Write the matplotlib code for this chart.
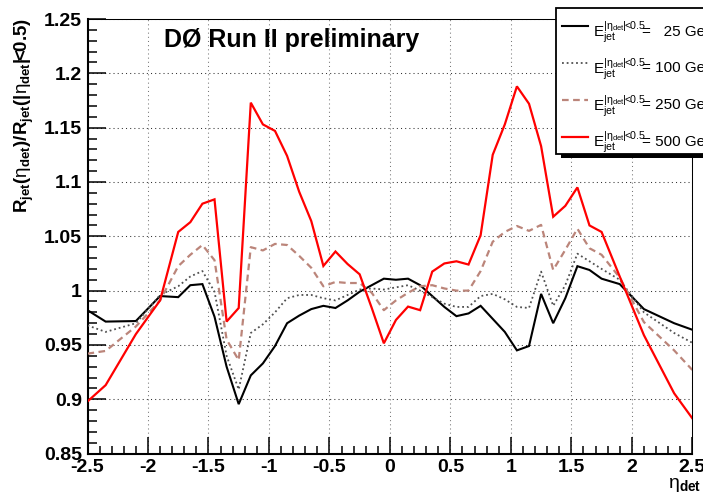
import matplotlib
matplotlib.use("Agg")
import matplotlib.pyplot as plt
from matplotlib.patches import Rectangle
from matplotlib.lines import Line2D
from matplotlib.ticker import FixedLocator, FixedFormatter, MultipleLocator

plt.rcParams['font.family'] = ['Liberation Sans', 'DejaVu Sans']
plt.rcParams['mathtext.fontset'] = 'custom'
plt.rcParams['mathtext.rm'] = 'Liberation Sans'
plt.rcParams['mathtext.it'] = 'Liberation Sans:italic'
plt.rcParams['mathtext.bf'] = 'Liberation Sans:bold'

# detector pseudorapidity of each point
eta_det = [-2.5, -2.35, -2.1, -1.9, -1.75, -1.65, -1.55, -1.45, -1.35, -1.25,
           -1.15, -1.05, -0.95, -0.85, -0.75, -0.65, -0.55, -0.45, -0.35, -0.25,
           -0.15, -0.05, 0.05, 0.15, 0.25, 0.35, 0.45, 0.55, 0.65, 0.75,
           0.85, 0.95, 1.05, 1.15, 1.25, 1.35, 1.45, 1.55, 1.65, 1.75,
           1.9, 2.1, 2.35, 2.5]

# relative response for jets of fixed central energy
resp_25 = [0.982, 0.9715, 0.972, 0.995, 0.994, 1.005, 1.006, 0.976, 0.930, 0.8955,
           0.922, 0.933, 0.949, 0.970, 0.977, 0.983, 0.986, 0.984, 0.991, 0.999,
           1.005, 1.011, 1.010, 1.011, 1.005, 0.995, 0.985, 0.9765, 0.979, 0.986,
           0.974, 0.962, 0.945, 0.949, 0.997, 0.970, 0.993, 1.0225, 1.019, 1.011,
           1.006, 0.983, 0.970, 0.964]
resp_100 = [0.968, 0.962, 0.970, 0.996, 1.004, 1.013, 1.018, 0.999, 0.940, 0.909,
            0.961, 0.969, 0.980, 0.993, 0.996, 0.996, 0.993, 0.991, 0.996, 1.001,
            1.002, 1.001, 1.003, 1.005, 1.000, 0.994, 0.988, 0.985, 0.985, 0.995,
            0.997, 0.992, 0.985, 0.984, 1.0175, 0.986, 1.005, 1.034, 1.027, 1.020,
            1.010, 0.980, 0.961, 0.952]
resp_250 = [0.942, 0.9445, 0.967, 0.991, 1.0225, 1.033, 1.042, 1.028, 0.955, 0.936,
            1.040, 1.037, 1.043, 1.042, 1.032, 1.021, 1.004, 1.008, 1.007, 1.007,
            0.998, 0.982, 0.991, 0.998, 1.004, 1.005, 1.002, 1.000, 1.000, 1.018,
            1.045, 1.054, 1.0595, 1.055, 1.0605, 1.019, 1.0375, 1.057, 1.039, 1.033,
            1.012, 0.971, 0.945, 0.927]
resp_500 = [0.898, 0.913, 0.960, 0.991, 1.054, 1.063, 1.080, 1.084, 0.9715, 0.984,
            1.173, 1.153, 1.147, 1.124, 1.091, 1.064, 1.0227, 1.036, 1.0245, 1.015,
            0.984, 0.9515, 0.973, 0.9853, 0.982, 1.0175, 1.025, 1.027, 1.024, 1.051,
            1.125, 1.153, 1.188, 1.172, 1.133, 1.068, 1.078, 1.095, 1.060, 1.054,
            1.013, 0.959, 0.9055, 0.8825]

energies = ['25', '100', '250', '500']
x_ticks = [-2.5, -2.0, -1.5, -1.0, -0.5, 0.0, 0.5, 1.0, 1.5, 2.0, 2.5]
x_tick_labels = ['-2.5', '-2', '-1.5', '-1', '-0.5', '0', '0.5', '1', '1.5', '2', '2.5']
y_ticks = [0.85, 0.9, 0.95, 1.0, 1.05, 1.1, 1.15, 1.2, 1.25]
y_tick_labels = ['0.85', '0.9', '0.95', '1', '1.05', '1.1', '1.15', '1.2', '1.25']

styles = [
    dict(color='black', lw=1.5, ls='-'),
    dict(color='#505050', lw=1.3, ls=(0, (1, 1.6))),
    dict(color='#bb857a', lw=1.6, ls=(0, (3, 2))),
    dict(color='#ff0000', lw=1.6, ls='-'),
]
series = [resp_25, resp_100, resp_250, resp_500]

W, H = 703, 495
fig = plt.figure(figsize=(W / 100, H / 100), dpi=100)
L, R, T, B = 87.5, 692.3, 19.0, 453.6
ax = fig.add_axes([L / W, 1 - B / H, (R - L) / W, (B - T) / H])

for vals, st in zip(series, styles):
    ax.plot(eta_det, vals, **st, solid_joinstyle='miter', zorder=3)

ax.set_xlim(-2.5, 2.5)
ax.set_ylim(0.85, 1.25)

ax.xaxis.set_major_locator(FixedLocator(x_ticks))
ax.xaxis.set_major_formatter(FixedFormatter(x_tick_labels))
ax.xaxis.set_minor_locator(MultipleLocator(0.1))
ax.yaxis.set_major_locator(FixedLocator(y_ticks))
ax.yaxis.set_major_formatter(FixedFormatter(y_tick_labels))
ax.yaxis.set_minor_locator(MultipleLocator(0.01))

ax.grid(True, which='major', axis='y', color='#333333', lw=0.75, ls=(0, (1, 3)), zorder=1)
ax.grid(True, which='major', axis='x', color='#777777', lw=0.75, ls=(0, (1, 3)), zorder=1)
ax.set_axisbelow(True)

ax.tick_params(axis='both', which='both', direction='in', top=False, right=False,
               width=1.1, colors='black')
ax.tick_params(axis='y', which='major', length=13, pad=4)
ax.tick_params(axis='y', which='minor', length=6.5)
ax.tick_params(axis='x', which='major', length=12, pad=4)
ax.tick_params(axis='x', which='minor', length=6)
for lab in ax.get_xticklabels() + ax.get_yticklabels():
    lab.set_fontsize(14)
    lab.set_fontweight('bold')

for side in ['left', 'bottom']:
    ax.spines[side].set_linewidth(1.5)
for side in ['top', 'right']:
    ax.spines[side].set_linewidth(0.75)

# axis titles
fig.text(24 / W, 1 - 18 / H,
         r'$\mathbf{R_{jet}}$$\mathbf{(}$$\mathrm{\eta}_{\mathbf{det}}$$\mathbf{)/R_{jet}}$'
         r'$\mathbf{(|}$$\mathrm{\eta}_{\mathbf{det}}$$\mathbf{|\!\!<\!\!0.5)}$',
         rotation=90, ha='center', va='top', fontsize=13.5)
fig.text(701 / W, 1 - 494 / H, r'$\mathrm{\eta}_{\mathbf{det}}$',
         ha='right', va='bottom', fontsize=14)

fig.text(164 / W, 1 - 47 / H, 'DØ Run II preliminary', fontsize=18,
         fontweight='bold', va='baseline', ha='left')

# legend box with drop shadow, running off the right edge
bx0, bx1, by0, by1 = 556, 725, 8, 154
sh = Rectangle(((bx0 + 5) / W, 1 - (by1 + 4) / H), (bx1 - bx0) / W, (by1 - by0) / H,
               transform=fig.transFigure, facecolor='black', edgecolor='none',
               zorder=5)
box = Rectangle((bx0 / W, 1 - by1 / H), (bx1 - bx0) / W, (by1 - by0) / H,
                transform=fig.transFigure, facecolor='white', edgecolor='black',
                lw=1.3, zorder=6)
fig.patches.extend([sh, box])

for i, (en, st) in enumerate(zip(energies, styles)):
    yl = 26 + i * 36.9
    fig.lines.append(Line2D([561.5 / W, 588 / W], [1 - yl / H, 1 - yl / H],
                            transform=fig.transFigure, zorder=7, **st))
    pad = '  ' if len(en) == 2 else ''
    fig.text(593 / W, 1 - (yl + 10.5) / H,
             r'$\mathrm{E}_{\mathrm{jet}}^{|\mathrm{\eta}_{\mathrm{det}}|\!\!<\!\!0.5}$',
             fontsize=11, va='baseline', ha='left', zorder=8)
    fig.text(642 / W, 1 - (yl + 9.5) / H, '= ' + pad + en + ' GeV',
             fontsize=11, va='baseline', ha='left', zorder=8)

fig.savefig('out.png', dpi=100)
